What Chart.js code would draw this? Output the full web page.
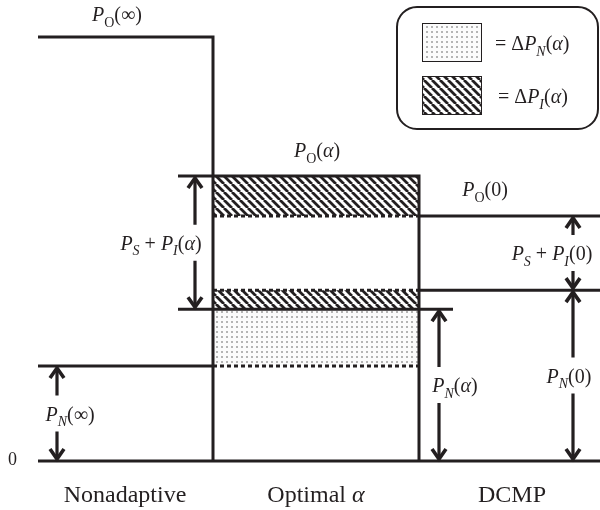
<!DOCTYPE html>
<html>
<head>
<meta charset="utf-8">
<script src="https://cdn.jsdelivr.net/npm/chart.js@4/dist/chart.umd.min.js"></script>
<style>
  html, body { margin: 0; padding: 0; background: #ffffff; }
  canvas { display: block; }
</style>
</head>
<body>
<canvas id="powerChart" width="600" height="510"></canvas>
<script>
// Schemes compared along the horizontal axis
const schemes = ['Nonadaptive', 'Optimal', 'DCMP'];
// Total received power P_O for each scheme: P_O(∞), P_O(α), P_O(0)
const totalPower = [10.0, 6.72, 5.78];
// Noise power P_N for each scheme: P_N(∞), P_N(α), P_N(0)
const noisePower = [2.24, 3.58, 4.03];
// Vertical tick label
const yTicks = [0];

// Layout of the three columns along the x scale
const columnEdges = [0.38, 2.13, 4.19, 6.0];

const INK = '#231f20';
const SERIF = '"Liberation Serif", "Times New Roman", serif';

// Diagonal hatch for the interference change ΔP_I(α)
function hatchPattern() {
  const s = 8;
  const c = document.createElement('canvas');
  c.width = s; c.height = s;
  const g = c.getContext('2d');
  g.fillStyle = '#ffffff';
  g.fillRect(0, 0, s, s);
  g.strokeStyle = INK;
  g.lineWidth = 2.8;
  g.beginPath();
  for (let k = -1; k <= 1; k++) {
    g.moveTo(k * s, 0);
    g.lineTo(k * s + s, s);
  }
  g.stroke();
  return g.createPattern(c, 'repeat');
}

// Fine grey stipple for the noise change ΔP_N(α)
function stipplePattern() {
  const s = 5;
  const c = document.createElement('canvas');
  c.width = s; c.height = s;
  const g = c.getContext('2d');
  g.fillStyle = '#fbfbfb';
  g.fillRect(0, 0, s, s);
  g.fillStyle = '#b4b4b4';
  g.fillRect(1, 1, 2, 2);
  return g.createPattern(c, 'repeat');
}

const ctx0 = document.getElementById('powerChart').getContext('2d');
const HATCH = hatchPattern();
const STIPPLE = stipplePattern();

const [E0, E1, E2, E3] = columnEdges;

function seg(points, extra) {
  return Object.assign({
    data: points.map(([x, y]) => ({ x, y })),
    borderColor: INK,
    borderWidth: 3,
    pointRadius: 0,
    tension: 0,
    fill: false,
    borderJoinStyle: 'miter',
    order: 1
  }, extra || {});
}

function band(top, bottom, pattern) {
  return {
    data: [{ x: E1, y: top }, { x: E2, y: top }],
    borderWidth: 0,
    borderColor: 'rgba(0,0,0,0)',
    backgroundColor: pattern,
    pointRadius: 0,
    tension: 0,
    fill: { value: bottom },
    order: 3
  };
}

const datasets = [
  // Nonadaptive column
  seg([[E0, totalPower[0]], [E1, totalPower[0]], [E1, 0]]),
  seg([[E0, noisePower[0]], [E1, noisePower[0]]]),
  // Optimal α column
  seg([[E1 - 0.35, totalPower[1]], [E2, totalPower[1]], [E2, 0]]),
  seg([[E1 - 0.35, noisePower[1]], [E2 + 0.34, noisePower[1]]]),
  // DCMP column
  seg([[E2, totalPower[2]], [E3, totalPower[2]]]),
  seg([[E2, noisePower[2]], [E3, noisePower[2]]]),
  // zero line
  seg([[E0, 0], [E3, 0]]),
  // dotted reference levels inside the optimal column
  seg([[E1, totalPower[2]], [E2, totalPower[2]]], { borderDash: [4, 3], order: 2 }),
  seg([[E1, noisePower[2]], [E2, noisePower[2]]], { borderDash: [4, 3], order: 2 }),
  seg([[E1, noisePower[0]], [E2, noisePower[0]]], { borderDash: [4, 3], order: 2 }),
  // shaded differences
  band(totalPower[1], totalPower[2], HATCH),
  band(noisePower[2], noisePower[1], HATCH),
  band(noisePower[1], noisePower[0], STIPPLE)
];

// Draws a run of text pieces: [text, style] with style r / i / sr / si
function fontFor(st, size) {
  const sub = st[0] === 's';
  const it = st.indexOf('i') >= 0;
  const sz = sub ? Math.round(size * 0.72) : size;
  return (it ? 'italic ' : '') + sz + 'px ' + SERIF;
}
function mathWidth(g, runs, size) {
  let w = 0;
  for (const [t, st] of runs) {
    g.font = fontFor(st, size);
    w += g.measureText(t).width;
  }
  return w;
}
function drawMath(g, runs, x, baseY, size, align) {
  const w = mathWidth(g, runs, size);
  let cx = align === 'left' ? x : x - w / 2;
  g.textBaseline = 'alphabetic';
  g.textAlign = 'left';
  g.fillStyle = INK;
  for (const [t, st] of runs) {
    g.font = fontFor(st, size);
    const dy = st[0] === 's' ? size * 0.28 : 0;
    g.fillText(t, cx, baseY + dy);
    cx += g.measureText(t).width;
  }
}

function arrowHead(g, x, y, dir) {
  // dir = -1 points up, +1 points down
  g.save();
  g.lineWidth = 3.6;
  g.beginPath();
  g.moveTo(x - 7, y - dir * 10);
  g.lineTo(x, y);
  g.lineTo(x + 7, y - dir * 10);
  g.stroke();
  g.restore();
}

const PO = (k) => [['P', 'i'], ['O', 'sr'], ['(' + k + ')', 'r']];
const PNr = (k) => [['P', 'i'], ['N', 'si'], ['(' + k + ')', 'r']];

const annotations = {
  id: 'annotations',
  afterDatasetsDraw(chart) {
    const g = chart.ctx;
    const xs = chart.scales.x, ys = chart.scales.y;
    const X = (v) => xs.getPixelForValue(v);
    const Y = (v) => ys.getPixelForValue(v);
    g.save();
    g.strokeStyle = INK;
    g.lineWidth = 3.2;
    g.lineCap = 'butt';
    g.lineJoin = 'miter';

    // double arrows between levels with a gap for their labels
    const arrows = [
      { x: 0.57, lo: 0, hi: noisePower[0], dx: 13,
        label: PNr('∞') },
      { x: 1.95, lo: noisePower[1], hi: totalPower[1], dx: -34,
        label: [['P', 'i'], ['S', 'si'], [' + ', 'r'], ['P', 'i'], ['I', 'si'], ['(', 'r'], ['α', 'i'], [')', 'r']] },
      { x: 4.39, lo: 0, hi: noisePower[1], dx: 16,
        label: [['P', 'i'], ['N', 'si'], ['(', 'r'], ['α', 'i'], [')', 'r']] },
      { x: 5.73, lo: 0, hi: noisePower[2], dx: -4,
        label: PNr('0') },
      { x: 5.73, lo: noisePower[2], hi: totalPower[2], dx: -21,
        label: [['P', 'i'], ['S', 'si'], [' + ', 'r'], ['P', 'i'], ['I', 'si'], ['(0)', 'r']] }
    ];
    for (const a of arrows) {
      const px = X(a.x);
      const top = Y(a.hi) + 2;
      const bot = Y(a.lo) - 2;
      const mid = (top + bot) / 2;
      g.beginPath();
      g.moveTo(px, top); g.lineTo(px, mid - 18);
      g.moveTo(px, mid + 18); g.lineTo(px, bot);
      g.stroke();
      arrowHead(g, px, top, -1);
      arrowHead(g, px, bot, 1);
      drawMath(g, a.label, px + a.dx, mid + 7, 20);
    }

    // level labels above each column
    drawMath(g, PO('∞'), 117, Y(totalPower[0]) - 16, 20);
    drawMath(g, [['P', 'i'], ['O', 'sr'], ['(', 'r'], ['α', 'i'], [')', 'r']],
             (X(E1) + X(E2)) / 2 + 1, Y(totalPower[1]) - 19, 20);
    drawMath(g, PO('0'), 485, Y(totalPower[2]) - 20, 20);

    // zero tick
    g.font = '18px ' + SERIF;
    g.fillStyle = INK;
    g.textAlign = 'left';
    g.textBaseline = 'middle';
    g.fillText(String(yTicks[0]), 8, Y(0) - 1);

    // scheme names under the columns
    const centres = [125, (X(E1) + X(E2)) / 2, 512];
    drawMath(g, [[schemes[0], 'r']], centres[0], 502, 24);
    drawMath(g, [[schemes[1] + ' ', 'r'], ['α', 'i']], centres[1], 502, 24);
    drawMath(g, [[schemes[2], 'r']], centres[2], 502, 24);

    // key box
    const bx = 397, by = 7, bw = 201, bh = 122, r = 20;
    g.lineWidth = 2;
    g.beginPath();
    g.moveTo(bx + r, by);
    g.lineTo(bx + bw - r, by);
    g.arcTo(bx + bw, by, bx + bw, by + r, r);
    g.lineTo(bx + bw, by + bh - r);
    g.arcTo(bx + bw, by + bh, bx + bw - r, by + bh, r);
    g.lineTo(bx + r, by + bh);
    g.arcTo(bx, by + bh, bx, by + bh - r, r);
    g.lineTo(bx, by + r);
    g.arcTo(bx, by, bx + r, by, r);
    g.closePath();
    g.fillStyle = '#ffffff';
    g.fill();
    g.stroke();

    g.lineWidth = 1;
    g.fillStyle = STIPPLE;
    g.fillRect(422, 23, 60, 39);
    g.strokeRect(422.5, 23.5, 59, 38);
    g.fillStyle = HATCH;
    g.fillRect(422, 76, 60, 39);
    g.strokeRect(422.5, 76.5, 59, 38);

    drawMath(g, [['= Δ', 'r'], ['P', 'i'], ['N', 'si'], ['(', 'r'], ['α', 'i'], [')', 'r']], 495, 50, 20, 'left');
    drawMath(g, [['= Δ', 'r'], ['P', 'i'], ['I', 'si'], ['(', 'r'], ['α', 'i'], [')', 'r']], 498, 103, 20, 'left');

    g.restore();
  }
};

new Chart(ctx0, {
  type: 'line',
  data: { datasets },
  options: {
    responsive: false,
    animation: false,
    events: [],
    layout: { padding: 0 },
    plugins: { legend: { display: false }, tooltip: { enabled: false } },
    scales: {
      x: { type: 'linear', display: false, min: 0, max: 6 },
      y: { type: 'linear', display: false, min: -49 / 42.4, max: 461 / 42.4 }
    }
  },
  plugins: [annotations]
});
</script>
</body>
</html>
